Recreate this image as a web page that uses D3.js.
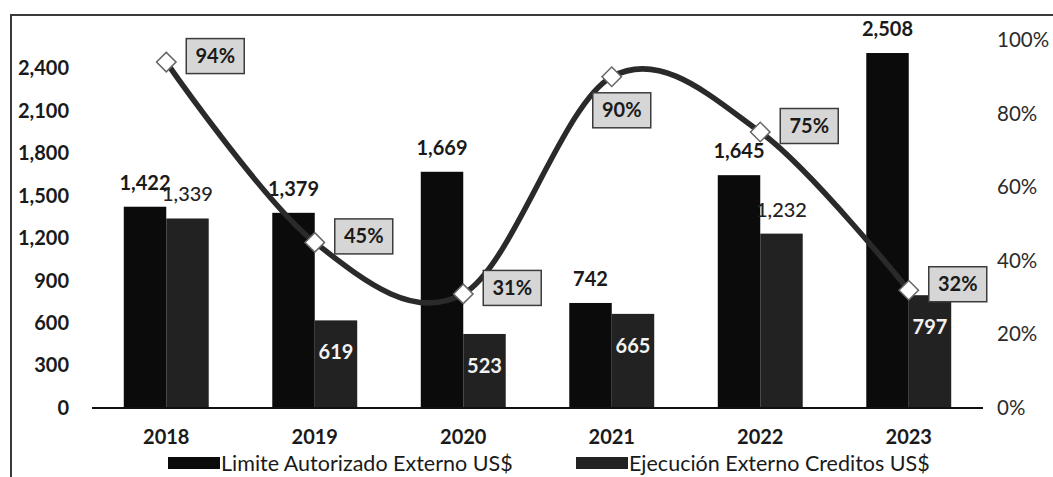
<!DOCTYPE html>
<html>
<head>
<meta charset="utf-8">
<script src="https://cdn.jsdelivr.net/npm/d3@7"></script>
<style>
  html, body { margin: 0; padding: 0; background: #ffffff; }
  svg { display: block; font-family: Lato, "Open Sans", sans-serif; }
</style>
</head>
<body>
<svg id="chart" width="1053" height="477"></svg>
<script>
// Años del periodo
const years = ["2018", "2019", "2020", "2021", "2022", "2023"];
// Límite autorizado externo (millones US$)
const limite = [1422, 1379, 1669, 742, 1645, 2508];
// Ejecución de créditos externos (millones US$)
const ejecucion = [1339, 619, 523, 665, 1232, 797];
// Porcentaje de ejecución sobre el límite
const porcentaje = [0.94, 0.45, 0.31, 0.90, 0.75, 0.32];
// Marcas de los ejes
const leftTicks = [0, 300, 600, 900, 1200, 1500, 1800, 2100, 2400];
const rightTicks = [0, 0.2, 0.4, 0.6, 0.8, 1.0];
const seriesNames = ["Limite Autorizado Externo US$", "Ejecución Externo Creditos US$"];

const svg = d3.select("#chart");
const W = 1053, H = 477;
const plot = { left: 92, right: 983, top: 40, bottom: 408 };

const barColors = ["#0b0b0b", "#222222"];
const lineColor = "#2a2a2a";

// Marco del gráfico
svg.append("rect")
  .attr("x", 11).attr("y", 15)
  .attr("width", W + 20).attr("height", H + 20)
  .attr("fill", "#ffffff")
  .attr("stroke", "#3a3a3a").attr("stroke-width", 2);

const x = d3.scaleBand().domain(years)
  .range([plot.left, plot.right])
  .paddingInner(0.428).paddingOuter(0.214);
const xs = d3.scaleBand().domain([0, 1]).range([0, x.bandwidth()]);
const yL = d3.scaleLinear().domain([0, 2600]).range([plot.bottom, plot.top]);
const yR = d3.scaleLinear().domain([0, 1]).range([plot.bottom, plot.top]);

// Eje izquierdo
const axL = svg.append("g").attr("transform", `translate(${plot.left - 23},0)`)
  .call(d3.axisLeft(yL).tickValues(leftTicks).tickSize(0).tickPadding(0)
    .tickFormat(d3.format(",")));
axL.select(".domain").remove();
axL.selectAll("text")
  .attr("font-size", 20).attr("font-weight", 700).attr("fill", "#1a1a1a")
  .attr("font-family", "Lato, sans-serif");

// Eje derecho
const axR = svg.append("g").attr("transform", `translate(${plot.right + 14},0)`)
  .call(d3.axisRight(yR).tickValues(rightTicks).tickSize(0).tickPadding(0)
    .tickFormat(d3.format(".0%")));
axR.select(".domain").remove();
axR.selectAll("text")
  .attr("font-size", 20.5).attr("font-weight", 400).attr("fill", "#2b2b2b")
  .attr("font-family", "Lato, sans-serif");

// Eje de categorías
const axX = svg.append("g").attr("transform", `translate(0,${plot.bottom})`)
  .call(d3.axisBottom(x).tickSize(0).tickPadding(22));
axX.select(".domain").remove();
axX.selectAll("text")
  .attr("font-size", 20).attr("font-weight", 700).attr("fill", "#1a1a1a")
  .attr("font-family", "Lato, sans-serif");

// Barras
const series = [limite, ejecucion];
series.forEach((vals, si) => {
  svg.append("g").selectAll("rect")
    .data(vals)
    .join("rect")
    .attr("x", (d, i) => x(years[i]) + xs(si))
    .attr("y", d => yL(d))
    .attr("width", xs.bandwidth())
    .attr("height", d => yL(0) - yL(d))
    .attr("fill", barColors[si]);
});

// Línea base
svg.append("line")
  .attr("x1", plot.left).attr("x2", plot.right)
  .attr("y1", plot.bottom).attr("y2", plot.bottom)
  .attr("stroke", "#111").attr("stroke-width", 2);

// Etiquetas de valores: límite encima de la barra
const fmt = d3.format(",");
svg.append("g").selectAll("text")
  .data(limite)
  .join("text")
  .attr("x", (d, i) => x(years[i]) + xs(0) + xs.bandwidth() / 2)
  .attr("y", d => yL(d) - 24)
  .attr("dy", "0.35em")
  .attr("text-anchor", "middle")
  .attr("font-size", 20).attr("font-weight", 700).attr("fill", "#1a1a1a")
  .text(d => fmt(d));

// Etiquetas de ejecución: fuera o dentro de la barra
const insideYears = new Set(["2019", "2020", "2021", "2023"]);
svg.append("g").selectAll("text")
  .data(ejecucion)
  .join("text")
  .attr("x", (d, i) => x(years[i]) + xs(1) + xs.bandwidth() / 2)
  .attr("y", (d, i) => insideYears.has(years[i]) ? yL(d) + 32 : yL(d) - 24)
  .attr("dy", "0.35em")
  .attr("text-anchor", "middle")
  .attr("font-size", 20)
  .attr("font-weight", (d, i) => insideYears.has(years[i]) ? 700 : 500)
  .attr("fill", (d, i) => insideYears.has(years[i]) ? "#f2f2f2" : "#222")
  .text(d => fmt(d));

// Línea de porcentaje suavizada
const pts = porcentaje.map((p, i) => [x(years[i]) + x.bandwidth() / 2, yR(p)]);
svg.append("path")
  .datum(pts)
  .attr("d", d3.line().curve(d3.curveCatmullRom.alpha(0)))
  .attr("fill", "none")
  .attr("stroke", lineColor)
  .attr("stroke-width", 5.5)
  .attr("stroke-linecap", "round");

// Marcadores en rombo
svg.append("g").selectAll("path")
  .data(pts)
  .join("path")
  .attr("transform", d => `translate(${d[0]},${d[1]}) rotate(45)`)
  .attr("d", d3.symbol(d3.symbolSquare, 190))
  .attr("fill", "#ffffff")
  .attr("stroke", "#666")
  .attr("stroke-width", 1.5);

// Etiquetas de porcentaje en recuadro
const belowYears = new Set(["2021"]);
const boxW = 58, boxH = 35;
const lbl = svg.append("g").selectAll("g")
  .data(pts)
  .join("g")
  .attr("transform", (d, i) => {
    if (belowYears.has(years[i])) return `translate(${d[0] - 19},${d[1] + 16})`;
    return `translate(${d[0] + 20},${d[1] - 6 - boxH / 2})`;
  });
lbl.append("rect")
  .attr("width", boxW).attr("height", boxH)
  .attr("fill", "#d6d6d6")
  .attr("stroke", "#3c3c3c").attr("stroke-width", 1.5);
lbl.append("text")
  .attr("x", boxW / 2).attr("y", boxH / 2)
  .attr("dy", "0.35em")
  .attr("text-anchor", "middle")
  .attr("font-size", 20).attr("font-weight", 700).attr("fill", "#1a1a1a")
  .text((d, i) => d3.format(".0%")(porcentaje[i]));

// Leyenda
const legend = svg.append("g").attr("transform", "translate(0,463)");
const legX = [168, 576];
seriesNames.forEach((name, i) => {
  legend.append("rect")
    .attr("x", legX[i]).attr("y", -6)
    .attr("width", 52).attr("height", 12)
    .attr("fill", barColors[i]);
  legend.append("text")
    .attr("x", legX[i] + 53).attr("y", 0)
    .attr("dy", "0.35em")
    .attr("font-size", 21.5).attr("font-weight", 400).attr("fill", "#1a1a1a")
    .text(name);
});
</script>
</body>
</html>
